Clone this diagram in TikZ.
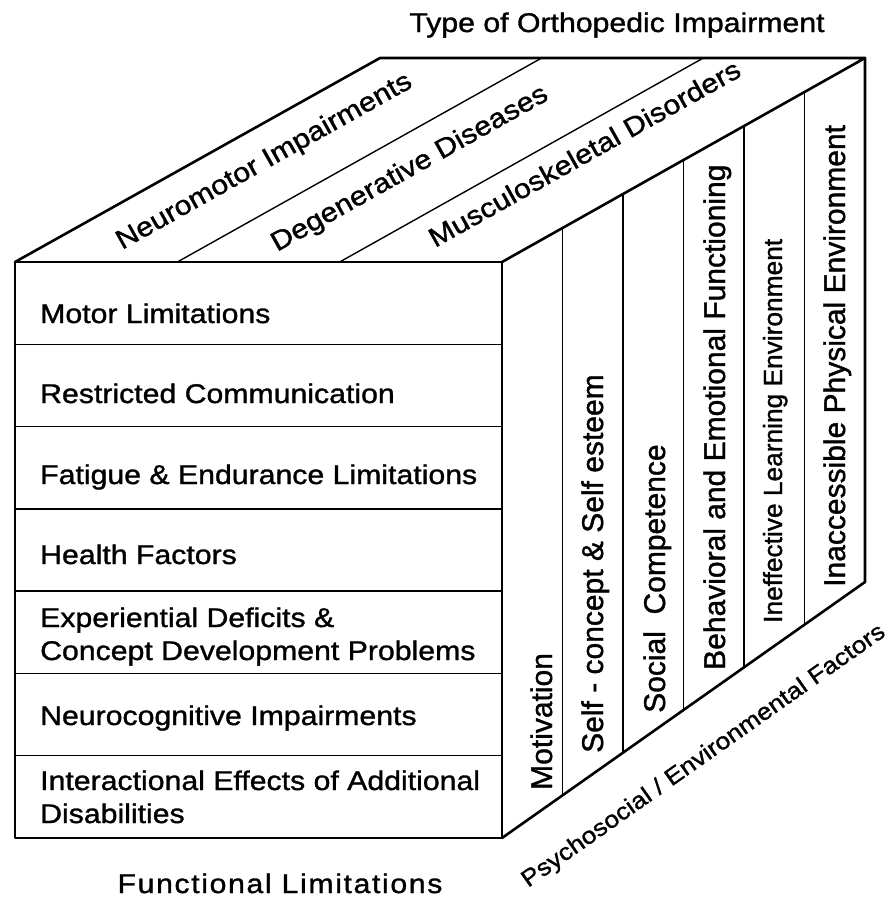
\documentclass[tikz,border=0pt]{standalone}
\usepackage{fontspec}
\setmainfont{Liberation Sans}[FakeStretch=1.12, FakeBold=1.2]
\newfontfamily\colfont{Liberation Sans}[FakeBold=1.2]
\usetikzlibrary{calc}
\tikzstyle{edge}=[line width=2.6pt, line join=round, line cap=round]
\tikzstyle{sep}=[line width=1.4pt]
\tikzstyle{txt}=[inner sep=0pt, font=\fontsize{27}{33}\selectfont]
\tikzstyle{coltxt}=[inner sep=0pt, rotate=90, anchor=base west, font=\colfont\fontsize{30}{36}\selectfont]

\begin{document}
\begin{tikzpicture}[x=1pt, y=-1pt]
  \useasboundingbox (0,0) rectangle (893,905);
  \coordinate (ftl) at (15,262);
  \coordinate (ftr) at (502,262);
  \coordinate (fbr) at (502,838);
  \coordinate (fbl) at (15,838);
  \coordinate (btl) at (380,58);
  \coordinate (btr) at (865,58);
  \coordinate (bbr) at (865,582);

  \draw[sep] ($(ftl)!1/7!(fbl)$) -- ($(ftr)!1/7!(fbr)$);
  \draw[sep] ($(ftl)!2/7!(fbl)$) -- ($(ftr)!2/7!(fbr)$);
  \draw[sep] ($(ftl)!3/7!(fbl)$) -- ($(ftr)!3/7!(fbr)$);
  \draw[sep] ($(ftl)!4/7!(fbl)$) -- ($(ftr)!4/7!(fbr)$);
  \draw[sep] ($(ftl)!5/7!(fbl)$) -- ($(ftr)!5/7!(fbr)$);
  \draw[sep] ($(ftl)!6/7!(fbl)$) -- ($(ftr)!6/7!(fbr)$);

  \draw[sep] ($(ftl)!1/3!(ftr)$) -- ($(btl)!1/3!(btr)$);
  \draw[sep] ($(ftl)!2/3!(ftr)$) -- ($(btl)!2/3!(btr)$);

  \draw[sep] ($(ftr)!1/6!(btr)$) -- ($(fbr)!1/6!(bbr)$);
  \draw[sep] ($(ftr)!2/6!(btr)$) -- ($(fbr)!2/6!(bbr)$);
  \draw[sep] ($(ftr)!3/6!(btr)$) -- ($(fbr)!3/6!(bbr)$);
  \draw[sep] ($(ftr)!4/6!(btr)$) -- ($(fbr)!4/6!(bbr)$);
  \draw[sep] ($(ftr)!5/6!(btr)$) -- ($(fbr)!5/6!(bbr)$);

  \draw[edge] (ftl) rectangle (fbr);
  \draw[edge] (ftl) -- (btl) -- (btr) -- (ftr);
  \draw[edge] (btr) -- (bbr) -- (fbr);

  \node[txt, anchor=base] (type) at (617,32) {Type of Orthopedic Impairment};
  \node[txt, anchor=base, font=\fontsize{27}{33}\selectfont\addfontfeature{LetterSpace=6}] (func) at (280,893) {Functional Limitations};
  \node[txt, anchor=base west, rotate=35.2, font=\fontsize{23.5}{28}\selectfont] (psy) at (528,888) {Psychosocial / Environmental Factors};

  \node[txt, anchor=base west, rotate=29.3] (neuro) at (122,250) {Neuromotor Impairments};
  \node[txt, anchor=base west, rotate=29.3] (degen) at (277,252) {Degenerative Diseases};
  \node[txt, anchor=base west, rotate=29.3] (musc) at (435,248) {Musculoskeletal Disorders};

  \node[txt, anchor=base west] (motor) at (40,323) {Motor Limitations};
  \node[txt, anchor=base west] (comm) at (40,403) {Restricted Communication};
  \node[txt, anchor=base west] (fatigue) at (40,484) {Fatigue \& Endurance Limitations};
  \node[txt, anchor=base west] (health) at (40,564) {Health Factors};
  \node[txt, anchor=base west, align=left] (exper) at (40,660) {Experiential Deficits \&\\Concept Development Problems};
  \node[txt, anchor=base west] (neurocog) at (40,725) {Neurocognitive Impairments};
  \node[txt, anchor=base west, align=left] (inter) at (40,823) {Interactional Effects of Additional\\Disabilities};

  \node[coltxt] (motiv) at (552,790) {Motivation};
  \node[coltxt] (self) at (603,753) {Self - concept \& Self esteem};
  \node[coltxt] (social) at (665,713) {Social\ \ Competence};
  \node[coltxt] (behav) at (725,670) {Behavioral and Emotional Functioning};
  \node[coltxt, font=\colfont\fontsize{26.3}{32}\selectfont] (learn) at (782,623) {Ineffective Learning Environment};
  \node[coltxt] (phys) at (845,587) {Inaccessible Physical Environment};
\end{tikzpicture}
\end{document}
